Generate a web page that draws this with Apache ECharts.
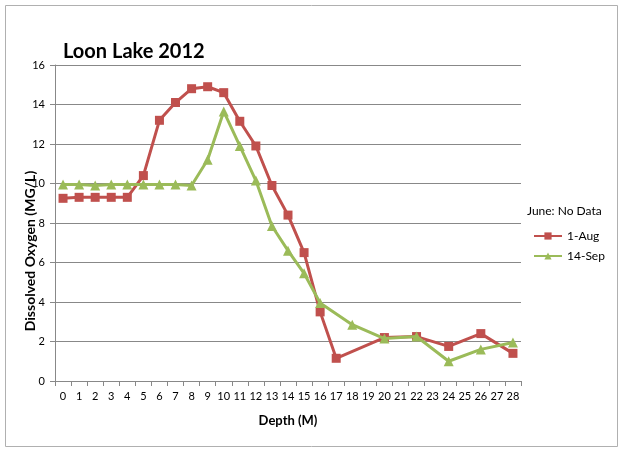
<!DOCTYPE html>
<html><head><meta charset="utf-8">
<script src="https://cdn.jsdelivr.net/npm/echarts@6/dist/echarts.min.js"></script>
<style>html,body{margin:0;padding:0;background:#fff}#c{width:623px;height:452px}</style>
</head><body><div id="c"></div>
<script>
const depths = ['0','1','2','3','4','5','6','7','8','9','10','11','12','13','14','15','16','17','18','19','20','21','22','23','24','25','26','27','28'];
const aug1 = [9.25,9.3,9.3,9.3,9.3,10.4,13.2,14.1,14.8,14.9,14.6,13.15,11.9,9.9,8.4,6.5,3.5,1.15,null,null,2.2,null,2.25,null,1.75,null,2.4,null,1.4];
const sep14 = [9.95,9.95,9.9,9.95,9.95,9.95,9.95,9.95,9.9,11.2,13.65,11.9,10.15,7.85,6.6,5.45,3.95,null,2.85,null,2.15,null,2.25,null,1.0,null,1.6,null,1.95];
const yTicks = [0,16,2];
const font = 'Lato, "Open Sans", sans-serif';
const chart = echarts.init(document.getElementById('c'));
chart.setOption({
  animation:false,
  backgroundColor:'#fff',
  title:{text:'Loon Lake 2012',left:58,top:37,textStyle:{fontFamily:font,fontSize:20,fontWeight:'bold',color:'#000'}},
  graphic:[
    {type:'rect',shape:{x:5.5,y:5.5,width:612,height:441},style:{fill:'none',stroke:'#b0b0b0',lineWidth:1}},
    {type:'text',left:527,top:205,style:{text:'June: No Data',font:'12px '+font,fill:'#000'}}
  ],
  legend:{orient:'vertical',left:528,top:225,itemWidth:28,itemHeight:9,itemGap:8,
    textStyle:{fontFamily:font,fontSize:12,color:'#000'},data:['1-Aug','14-Sep']},
  grid:{left:55,right:102,top:65,bottom:71},
  xAxis:{type:'category',data:depths,boundaryGap:true,
    name:'Depth (M)',nameLocation:'middle',nameGap:33,nameMoveOverlap:false,
    nameTextStyle:{fontFamily:font,fontSize:13,fontWeight:'bold',color:'#000'},
    axisLine:{lineStyle:{color:'#888'}},
    axisTick:{show:true,alignWithLabel:false,length:5,lineStyle:{color:'#888'}},
    axisLabel:{fontFamily:font,fontSize:11,color:'#000',interval:0,margin:10}},
  yAxis:{type:'value',min:yTicks[0],max:yTicks[1],interval:yTicks[2],
    name:'Dissolved Oxygen (MG/L)',nameLocation:'middle',nameGap:18,nameMoveOverlap:false,
    nameTextStyle:{fontFamily:font,fontSize:14,fontWeight:'bold',color:'#000',padding:[0,56,0,0]},
    axisLine:{show:true,lineStyle:{color:'#888'}},
    axisTick:{show:true,length:5,lineStyle:{color:'#888'}},
    splitLine:{lineStyle:{color:'#888'}},
    axisLabel:{fontFamily:font,fontSize:11,color:'#000',margin:10}},
  series:[
    {name:'1-Aug',type:'line',data:aug1,connectNulls:true,symbol:'rect',symbolSize:9,
     color:'#C0504D',lineStyle:{width:3,color:'#C0504D'},itemStyle:{color:'#C0504D'},z:2},
    {name:'14-Sep',type:'line',data:sep14,connectNulls:true,symbol:'triangle',symbolSize:10,
     color:'#9BBB59',lineStyle:{width:3,color:'#9BBB59'},itemStyle:{color:'#9BBB59'},z:3}
  ]
});
</script></body></html>
